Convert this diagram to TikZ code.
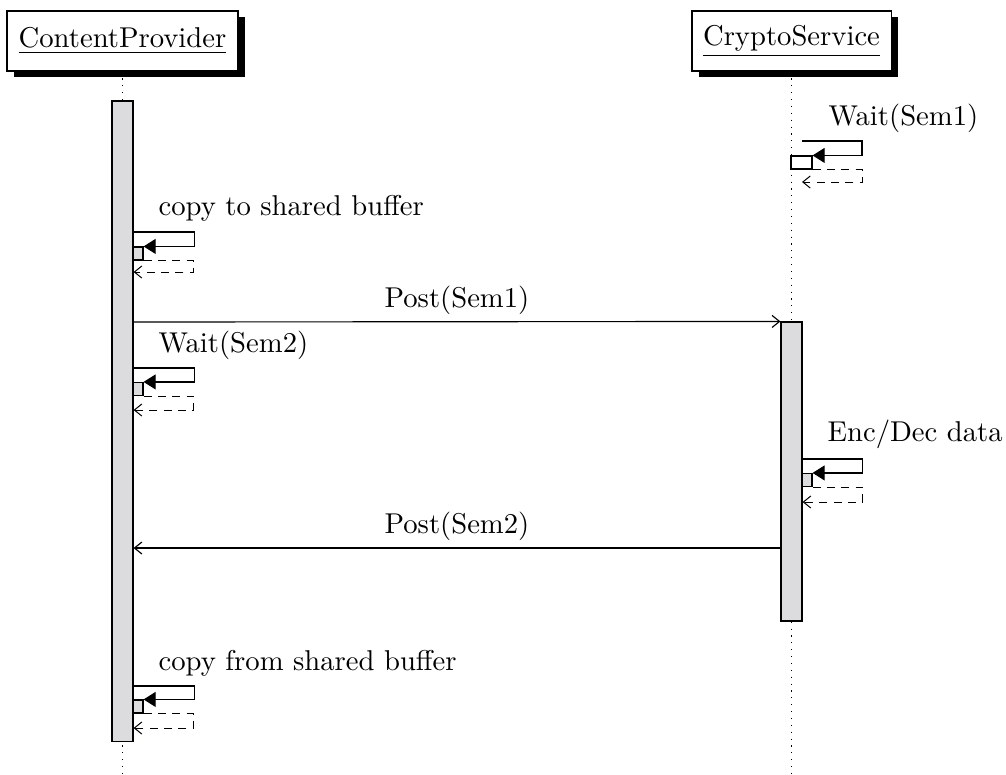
\documentclass[tikz,border=0pt]{standalone}
\usetikzlibrary{arrows.meta,shadows}
\definecolor{barfill}{RGB}{220,220,222}
\begin{document}
\begin{tikzpicture}[x=0.349pt,y=-0.349pt,
  head/.style={draw,fill=white,inner sep=0pt,minimum height=20.9pt,
    drop shadow={shadow xshift=2.3pt,shadow yshift=-2.1pt,opacity=1,fill=black}},
  actbar/.style={draw,fill=barfill,minimum width=7.33pt,inner sep=0pt},
  sbox/.style={draw,fill=barfill,minimum width=3.49pt,minimum height=4.54pt,inner sep=0pt},
  lbl/.style={anchor=base west,inner sep=0pt},
  call/.style={-{Triangle[length=4.2pt,width=5.2pt]}},
  msg/.style={-{Straight Barb[length=2.6pt,width=4.2pt]}},
  ret/.style={dash pattern=on 2.8pt off 2.2pt,line width=0.35pt,msg},
  life/.style={dotted}]
\useasboundingbox (0,0) rectangle (1006,774);

% heads
\node[head,minimum width=80.6pt] (cp) at (122.5,41) {\underline{ContentProvider}};
\node[head,minimum width=69.5pt] (cs) at (791.5,41) {\underline{CryptoService}};

% lifelines
\coordinate (cpend) at (122.5,774);
\coordinate (csend) at (791.5,774);
\draw[life] (cp.south) -- (cpend);
\draw[life] (cs.south) -- (csend);

% activation bars
\node[actbar,minimum height=223.4pt] (cpb) at (122.5,421) {};
\node[actbar,minimum height=104.35pt] (csb) at (791.5,471.5) {};

% CS: Wait(Sem1)
\node[draw,fill=white,minimum width=7.33pt,minimum height=4.54pt,inner sep=0pt] (s1) at (801.5,162.5) {};
\node[lbl] (l1) at (828,125) {Wait(Sem1)};
\coordinate (s1c) at (802,141);
\coordinate (s1r) at (802,182);
\draw[call] (s1c) -- ++(60,0) |- (s1.north east);
\draw[ret] (s1.south east) -- ++(50,0) |- (s1r);

% CP: copy to shared buffer
\node[sbox] (s2) at (138,253.5) {};
\node[lbl] (l2) at (158,215) {copy to shared buffer};
\draw[call] (cpb.east |- 0,232) -- ++(60.5,0) |- (s2.north east);
\draw[ret] (s2.south east) -- ++(50,0) |- (cpb.east |- 0,272);

% Post(Sem1)
\draw[msg] (cpb.east |- 0,322) -- (csb.north west);
\node[anchor=base,inner sep=0pt] (l3) at (457,307) {Post(Sem1)};

% CP: Wait(Sem2)
\node[sbox] (s3) at (138,389) {};
\node[lbl] (l4) at (158,352) {Wait(Sem2)};
\draw[call] (cpb.east |- 0,368) -- ++(60.5,0) |- (s3.north east);
\draw[ret] (s3.south east) -- ++(50,0) |- (cpb.east |- 0,410);

% CS: Enc/Dec data
\node[sbox] (s4) at (807,480) {};
\node[lbl] (l5) at (827,441) {Enc/Dec data};
\draw[call] (csb.east |- 0,459) -- ++(60,0) |- (s4.north east);
\draw[ret] (s4.south east) -- ++(50,0) |- (csb.east |- 0,502);

% Post(Sem2)
\draw[msg] (csb.west |- 0,548) -- (cpb.east |- 0,548);
\node[anchor=base,inner sep=0pt] (l6) at (457,533) {Post(Sem2)};

% CP: copy from shared buffer
\node[sbox] (s5) at (138,706.5) {};
\node[lbl] (l7) at (158,670) {copy from shared buffer};
\draw[call] (cpb.east |- 0,686) -- ++(60.5,0) |- (s5.north east);
\draw[ret] (s5.south east) -- ++(50,0) |- (cpb.east |- 0,728);
\end{tikzpicture}
\end{document}
